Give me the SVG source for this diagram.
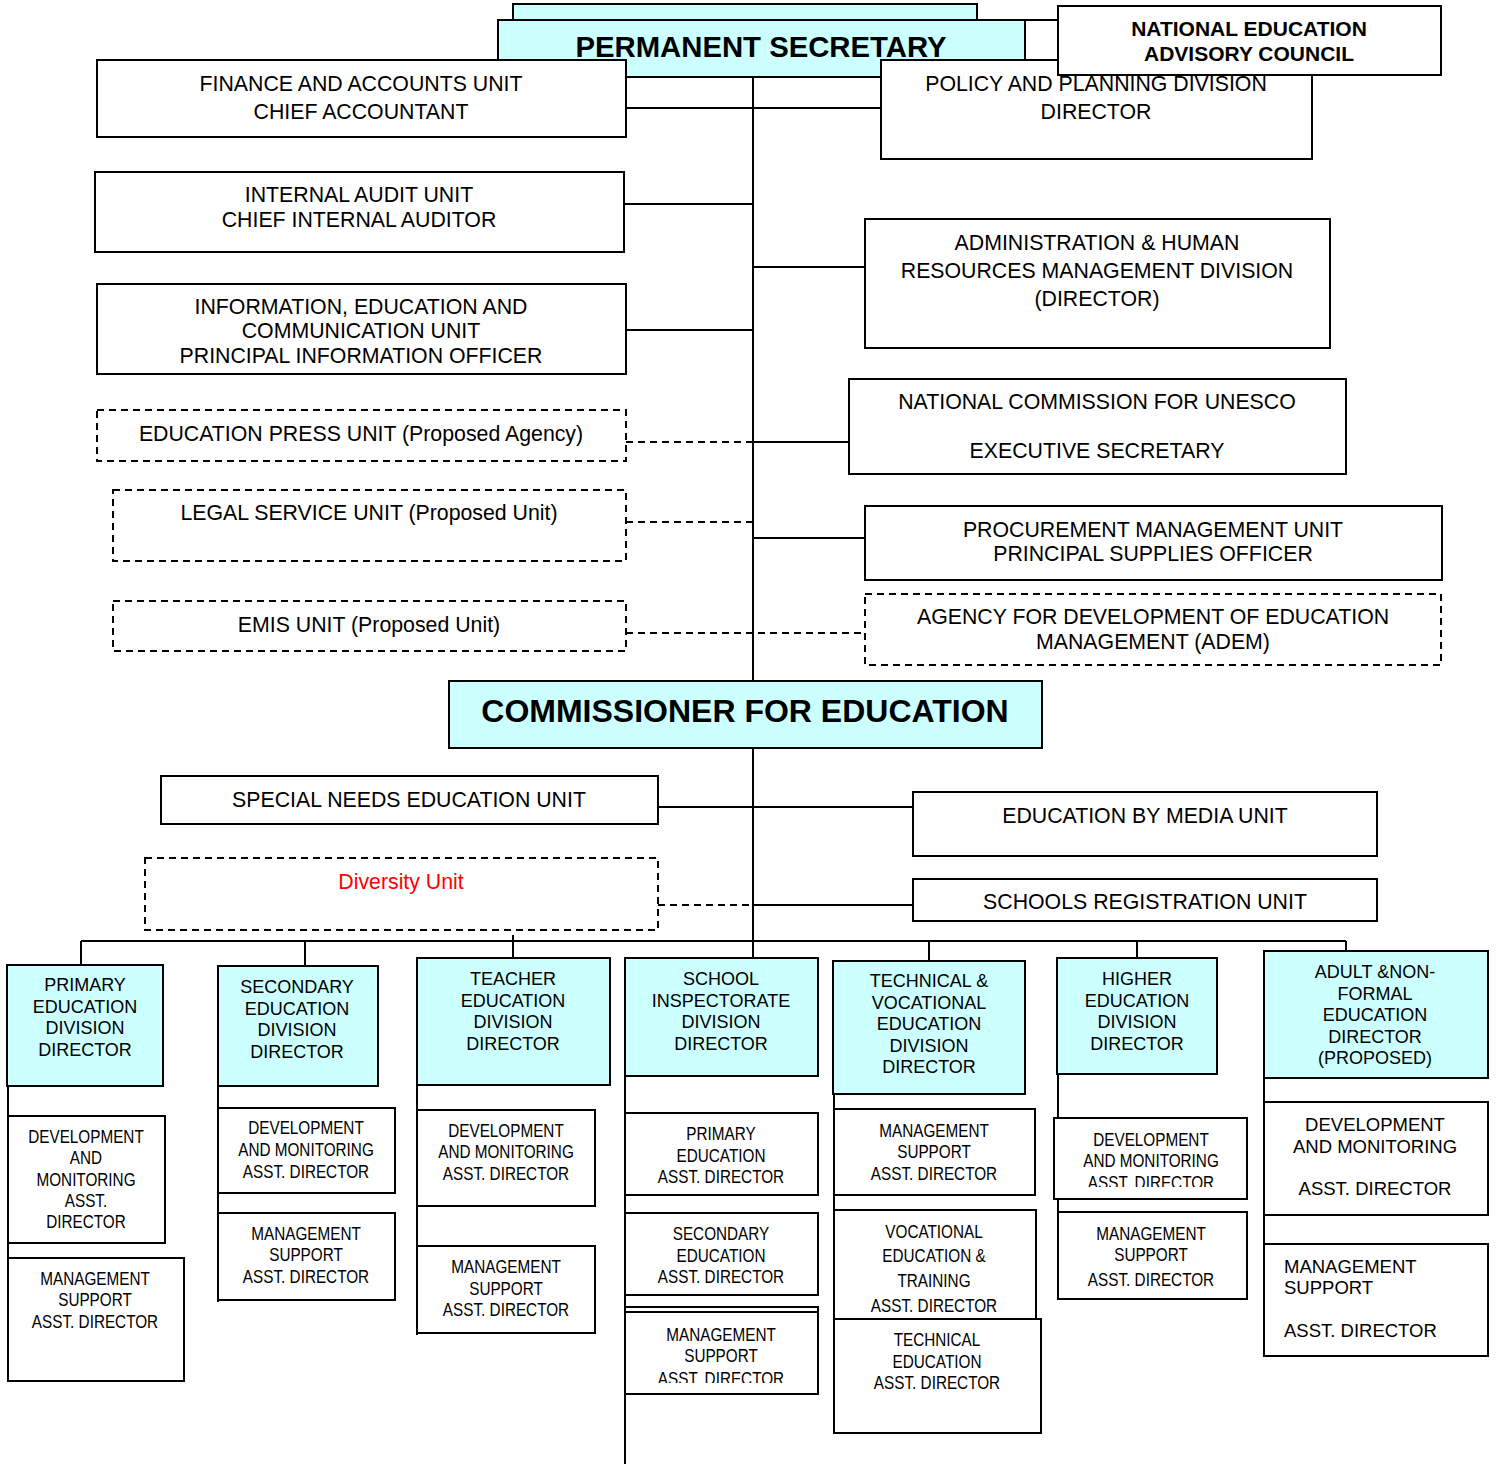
<svg xmlns="http://www.w3.org/2000/svg" width="1497" height="1464" viewBox="0 0 1497 1464">
<style>
rect{stroke:#000;stroke-width:2;fill:#fff}
rect.c{fill:#ccffff}
rect.d{stroke-dasharray:7,5}
text{font-family:"Liberation Sans",Arial,sans-serif;fill:#000;text-anchor:middle}
.t{font-size:21.3px}
.h{font-size:29.3px;font-weight:bold}
.b{font-size:21px;font-weight:bold}
.v{font-size:18px}
.n{font-size:18px}
.a{font-size:18.5px}
.red{fill:#ff0000}
#connectors line{stroke:#000;stroke-width:2}
#connectors line.d{stroke-dasharray:7,5}
</style>
<defs>
<clipPath id="clipS"><rect x="620" y="1300" width="200" height="83"/></clipPath>
<clipPath id="clipH"><rect x="1050" y="1110" width="200" height="77"/></clipPath>
</defs>
<rect x="0" y="0" width="1497" height="1464" style="fill:#fff;stroke:none"/>

<g id="connectors">
<line x1="753" y1="20" x2="753" y2="681"/>
<line x1="977" y1="20" x2="1058" y2="20"/>
<line x1="626" y1="108" x2="881" y2="108"/>
<line x1="624" y1="204" x2="753" y2="204"/>
<line x1="753" y1="267" x2="865" y2="267"/>
<line x1="626" y1="330" x2="753" y2="330"/>
<line x1="753" y1="442" x2="849" y2="442"/>
<line class="d" x1="626" y1="442" x2="753" y2="442"/>
<line class="d" x1="626" y1="522" x2="753" y2="522"/>
<line x1="753" y1="538" x2="865" y2="538"/>
<line class="d" x1="626" y1="633" x2="865" y2="633"/>
<line x1="753" y1="748" x2="753" y2="958"/>
<line x1="658" y1="807" x2="913" y2="807"/>
<line class="d" x1="658" y1="905" x2="753" y2="905"/>
<line x1="753" y1="905" x2="913" y2="905"/>
<line x1="81" y1="941" x2="1346" y2="941"/>
<line x1="81" y1="941" x2="81" y2="965"/>
<line x1="305" y1="941" x2="305" y2="966"/>
<line x1="513" y1="935" x2="513" y2="958"/>
<line x1="929" y1="941" x2="929" y2="961"/>
<line x1="1137" y1="941" x2="1137" y2="958"/>
<line x1="1346" y1="941" x2="1346" y2="951"/>
<line x1="8" y1="1086" x2="8" y2="1381"/>
<line x1="218" y1="1086" x2="218" y2="1302"/>
<line x1="417" y1="1085" x2="417" y2="1335"/>
<line x1="625" y1="1076" x2="625" y2="1464"/>
<line x1="834" y1="1094" x2="834" y2="1434"/>
<line x1="1058" y1="1074" x2="1058" y2="1299"/>
<line x1="1264" y1="1078" x2="1264" y2="1357"/>
</g>

<g id="ps">
<rect class="c" x="513" y="4" width="464" height="16"/>
<rect class="c" x="498" y="20" width="527" height="57"/>
<text class="h" x="761" y="57">PERMANENT SECRETARY</text>
</g>
<g id="finance">
<rect x="97" y="60" width="529" height="77"/>
<text class="t" x="361" y="91">FINANCE AND ACCOUNTS UNIT</text>
<text class="t" x="361" y="119">CHIEF ACCOUNTANT</text>
</g>
<g id="policy">
<rect x="881" y="60" width="431" height="99"/>
</g>
<g id="neac">
<rect x="1058" y="6" width="383" height="69"/>
<text class="b" x="1249" y="36">NATIONAL EDUCATION</text>
<text class="b" x="1249" y="61">ADVISORY COUNCIL</text>
</g>
<g id="policy-text">
<text class="t" x="1096" y="91">POLICY AND PLANNING DIVISION</text>
<text class="t" x="1096" y="119">DIRECTOR</text>
</g>
<g id="audit">
<rect x="95" y="172" width="529" height="80"/>
<text class="t" x="359" y="202">INTERNAL AUDIT UNIT</text>
<text class="t" x="359" y="227">CHIEF INTERNAL AUDITOR</text>
</g>
<g id="admin">
<rect x="865" y="219" width="465" height="129"/>
<text class="t" x="1097" y="250">ADMINISTRATION &amp; HUMAN</text>
<text class="t" x="1097" y="278">RESOURCES MANAGEMENT DIVISION</text>
<text class="t" x="1097" y="306">(DIRECTOR)</text>
</g>
<g id="iec">
<rect x="97" y="284" width="529" height="90"/>
<text class="t" x="361" y="314">INFORMATION, EDUCATION AND</text>
<text class="t" x="361" y="338">COMMUNICATION UNIT</text>
<text class="t" x="361" y="363">PRINCIPAL INFORMATION OFFICER</text>
</g>
<g id="unesco">
<rect x="849" y="379" width="497" height="95"/>
<text class="t" x="1097" y="409">NATIONAL COMMISSION FOR UNESCO</text>
<text class="t" x="1097" y="458">EXECUTIVE SECRETARY</text>
</g>
<g id="press">
<rect class="d" x="97" y="410" width="529" height="51"/>
<text class="t" x="361" y="441">EDUCATION PRESS UNIT (Proposed Agency)</text>
</g>
<g id="legal">
<rect class="d" x="113" y="490" width="513" height="71"/>
<text class="t" x="369" y="520">LEGAL SERVICE UNIT (Proposed Unit)</text>
</g>
<g id="procurement">
<rect x="865" y="506" width="577" height="74"/>
<text class="t" x="1153" y="537">PROCUREMENT MANAGEMENT UNIT</text>
<text class="t" x="1153" y="561">PRINCIPAL SUPPLIES OFFICER</text>
</g>
<g id="emis">
<rect class="d" x="113" y="601" width="513" height="50"/>
<text class="t" x="369" y="632">EMIS UNIT (Proposed Unit)</text>
</g>
<g id="adem">
<rect class="d" x="865" y="594" width="576" height="71"/>
<text class="t" x="1153" y="624">AGENCY FOR DEVELOPMENT OF EDUCATION</text>
<text class="t" x="1153" y="649">MANAGEMENT (ADEM)</text>
</g>
<g id="commissioner">
<rect class="c" x="449" y="681" width="593" height="67"/>
<text x="745" y="722" style="font-size:32px;font-weight:bold">COMMISSIONER FOR EDUCATION</text>
</g>
<g id="special">
<rect x="161" y="776" width="497" height="48"/>
<text class="t" x="409" y="807">SPECIAL NEEDS EDUCATION UNIT</text>
</g>
<g id="media">
<rect x="913" y="792" width="464" height="64"/>
<text class="t" x="1145" y="823">EDUCATION BY MEDIA UNIT</text>
</g>
<g id="diversity">
<rect class="d" x="145" y="858" width="513" height="72"/>
<text class="t red" x="401" y="889">Diversity Unit</text>
</g>
<g id="registration">
<rect x="913" y="879" width="464" height="42"/>
<text class="t" x="1145" y="909">SCHOOLS REGISTRATION UNIT</text>
</g>

<g id="primary">
<rect class="c" x="7" y="965" width="156" height="121"/>
<text class="v" x="85" y="991">PRIMARY</text>
<text class="v" x="85" y="1013">EDUCATION</text>
<text class="v" x="85" y="1034">DIVISION</text>
<text class="v" x="85" y="1056">DIRECTOR</text>
</g>
<g id="secondary">
<rect class="c" x="218" y="966" width="160" height="120"/>
<text class="v" x="297" y="993">SECONDARY</text>
<text class="v" x="297" y="1015">EDUCATION</text>
<text class="v" x="297" y="1036">DIVISION</text>
<text class="v" x="297" y="1058">DIRECTOR</text>
</g>
<g id="teacher">
<rect class="c" x="417" y="958" width="193" height="127"/>
<text class="v" x="513" y="985">TEACHER</text>
<text class="v" x="513" y="1007">EDUCATION</text>
<text class="v" x="513" y="1028">DIVISION</text>
<text class="v" x="513" y="1050">DIRECTOR</text>
</g>
<g id="inspectorate">
<rect class="c" x="625" y="958" width="193" height="118"/>
<text class="v" x="721" y="985">SCHOOL</text>
<text class="v" x="721" y="1007">INSPECTORATE</text>
<text class="v" x="721" y="1028">DIVISION</text>
<text class="v" x="721" y="1050">DIRECTOR</text>
</g>
<g id="technical">
<rect class="c" x="833" y="961" width="192" height="133"/>
<text class="v" x="929" y="987">TECHNICAL &amp;</text>
<text class="v" x="929" y="1009">VOCATIONAL</text>
<text class="v" x="929" y="1030">EDUCATION</text>
<text class="v" x="929" y="1052">DIVISION</text>
<text class="v" x="929" y="1073">DIRECTOR</text>
</g>
<g id="higher">
<rect class="c" x="1057" y="958" width="160" height="116"/>
<text class="v" x="1137" y="985">HIGHER</text>
<text class="v" x="1137" y="1007">EDUCATION</text>
<text class="v" x="1137" y="1028">DIVISION</text>
<text class="v" x="1137" y="1050">DIRECTOR</text>
</g>
<g id="adult">
<rect class="c" x="1264" y="951" width="224" height="127"/>
<text class="v" x="1375" y="978">ADULT &amp;NON-</text>
<text class="v" x="1375" y="1000">FORMAL</text>
<text class="v" x="1375" y="1021">EDUCATION</text>
<text class="v" x="1375" y="1043">DIRECTOR</text>
<text class="v" x="1375" y="1064">(PROPOSED)</text>
</g>

<g id="pri-dev">
<rect x="8" y="1116" width="157" height="127"/>
<g transform="translate(86,0) scale(0.85,1)">
<text class="n" x="0" y="1143">DEVELOPMENT</text>
<text class="n" x="0" y="1164">AND</text>
<text class="n" x="0" y="1186">MONITORING</text>
<text class="n" x="0" y="1207">ASST.</text>
<text class="n" x="0" y="1228">DIRECTOR</text>
</g>
</g>
<g id="pri-mgmt">
<rect x="8" y="1258" width="176" height="123"/>
<g transform="translate(95,0) scale(0.85,1)">
<text class="n" x="0" y="1285">MANAGEMENT</text>
<text class="n" x="0" y="1306">SUPPORT</text>
<text class="n" x="0" y="1328">ASST. DIRECTOR</text>
</g>
</g>
<g id="sec-dev">
<rect x="218" y="1108" width="177" height="85"/>
<g transform="translate(306,0) scale(0.85,1)">
<text class="n" x="0" y="1134">DEVELOPMENT</text>
<text class="n" x="0" y="1156">AND MONITORING</text>
<text class="n" x="0" y="1178">ASST. DIRECTOR</text>
</g>
</g>
<g id="sec-mgmt">
<rect x="218" y="1213" width="177" height="87"/>
<g transform="translate(306,0) scale(0.85,1)">
<text class="n" x="0" y="1240">MANAGEMENT</text>
<text class="n" x="0" y="1261">SUPPORT</text>
<text class="n" x="0" y="1283">ASST. DIRECTOR</text>
</g>
</g>
<g id="tea-dev">
<rect x="417" y="1110" width="178" height="96"/>
<g transform="translate(506,0) scale(0.85,1)">
<text class="n" x="0" y="1137">DEVELOPMENT</text>
<text class="n" x="0" y="1158">AND MONITORING</text>
<text class="n" x="0" y="1180">ASST. DIRECTOR</text>
</g>
</g>
<g id="tea-mgmt">
<rect x="417" y="1246" width="178" height="87"/>
<g transform="translate(506,0) scale(0.85,1)">
<text class="n" x="0" y="1273">MANAGEMENT</text>
<text class="n" x="0" y="1295">SUPPORT</text>
<text class="n" x="0" y="1316">ASST. DIRECTOR</text>
</g>
</g>
<g id="ins-pri">
<rect x="625" y="1113" width="193" height="82"/>
<g transform="translate(721,0) scale(0.85,1)">
<text class="n" x="0" y="1140">PRIMARY</text>
<text class="n" x="0" y="1162">EDUCATION</text>
<text class="n" x="0" y="1183">ASST. DIRECTOR</text>
</g>
</g>
<g id="ins-sec">
<rect x="625" y="1213" width="193" height="82"/>
<g transform="translate(721,0) scale(0.85,1)">
<text class="n" x="0" y="1240">SECONDARY</text>
<text class="n" x="0" y="1262">EDUCATION</text>
<text class="n" x="0" y="1283">ASST. DIRECTOR</text>
</g>
</g>
<g id="ins-mgmt">
<rect x="625" y="1307" width="193" height="87"/>
<line x1="625" y1="1312" x2="818" y2="1312" style="stroke:#000;stroke-width:2"/>
<g clip-path="url(#clipS)">
<g transform="translate(721,0) scale(0.85,1)">
<text class="n" x="0" y="1341">MANAGEMENT</text>
<text class="n" x="0" y="1362">SUPPORT</text>
<text class="n" x="0" y="1385">ASST. DIRECTOR</text>
</g>
</g>
</g>
<g id="tec-mgmt">
<rect x="834" y="1109" width="201" height="86"/>
<g transform="translate(934,0) scale(0.85,1)">
<text class="n" x="0" y="1137">MANAGEMENT</text>
<text class="n" x="0" y="1158">SUPPORT</text>
<text class="n" x="0" y="1180">ASST. DIRECTOR</text>
</g>
</g>
<g id="tec-voc">
<rect x="834" y="1210" width="202" height="109"/>
<g transform="translate(934,0) scale(0.85,1)">
<text class="n" x="0" y="1238">VOCATIONAL</text>
<text class="n" x="0" y="1262">EDUCATION &amp;</text>
<text class="n" x="0" y="1287">TRAINING</text>
<text class="n" x="0" y="1312">ASST. DIRECTOR</text>
</g>
</g>
<g id="tec-tech">
<rect x="834" y="1319" width="207" height="114"/>
<g transform="translate(937,0) scale(0.85,1)">
<text class="n" x="0" y="1346">TECHNICAL</text>
<text class="n" x="0" y="1368">EDUCATION</text>
<text class="n" x="0" y="1389">ASST. DIRECTOR</text>
</g>
</g>
<g id="hig-dev">
<rect x="1054" y="1118" width="193" height="81"/>
<g clip-path="url(#clipH)">
<g transform="translate(1151,0) scale(0.85,1)">
<text class="n" x="0" y="1146">DEVELOPMENT</text>
<text class="n" x="0" y="1167">AND MONITORING</text>
<text class="n" x="0" y="1189">ASST. DIRECTOR</text>
</g>
</g>
</g>
<g id="hig-mgmt">
<rect x="1058" y="1212" width="189" height="87"/>
<g transform="translate(1151,0) scale(0.85,1)">
<text class="n" x="0" y="1240">MANAGEMENT</text>
<text class="n" x="0" y="1261">SUPPORT</text>
<text class="n" x="0" y="1286">ASST. DIRECTOR</text>
</g>
</g>
<g id="adu-dev">
<rect x="1264" y="1102" width="224" height="113"/>
<text class="a" x="1375" y="1131">DEVELOPMENT</text>
<text class="a" x="1375" y="1153">AND MONITORING</text>
<text class="a" x="1375" y="1195">ASST. DIRECTOR</text>
</g>
<g id="adu-mgmt">
<rect x="1264" y="1244" width="224" height="112"/>
<text class="a" x="1284" y="1273" style="text-anchor:start">MANAGEMENT</text>
<text class="a" x="1284" y="1294" style="text-anchor:start">SUPPORT</text>
<text class="a" x="1284" y="1337" style="text-anchor:start">ASST. DIRECTOR</text>
</g>
</svg>
